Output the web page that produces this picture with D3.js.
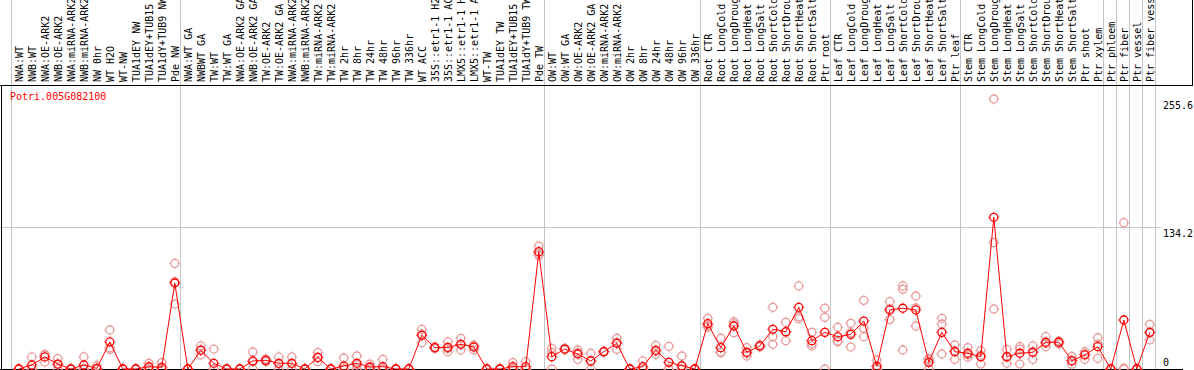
<!DOCTYPE html>
<html>
<head>
<meta charset="utf-8">
<script src="https://cdn.jsdelivr.net/npm/d3@7"></script>
<style>
  body { margin: 0; background: #fff; }
  svg { display: block; }
  text { font-family: "DejaVu Sans Mono", "Liberation Mono", monospace; font-size: 10px; }
</style>
</head>
<body>
<script>
// sample names, one per column
var samples = [
  "NWA:WT", "NWB:WT", "NWA:OE-ARK2", "NWB:OE-ARK2", "NWA:miRNA-ARK2", "NWB:miRNA-ARK2",
  "NW 0hr", "WT H2O", "WT-NW", "TUA1dEY NW", "TUA1dEY+TUB15 NW", "TUA1dY+TUB9 NW", "Pde NW",
  "NWA:WT GA", "NWBWT GA", "TW:WT", "TW:WT GA", "NWA:OE-ARK2 GA", "NWB:OE-ARK2 GA",
  "TW:OE-ARK2", "TW:OE-ARK2 GA", "NWA:miRNA-ARK2", "NWB:miRNA-ARK2", "TW:miRNA-ARK2", "TW:miRNA-ARK2",
  "TW 2hr", "TW 8hr", "TW 24hr", "TW 48hr", "TW 96hr", "TW 336hr", "WT ACC",
  "35S::etr1-1 H2O", "35S::etr1-1 ACC", "LMX5::etr1-1 H2O", "LMX5::etr1-1 ACC",
  "WT-TW", "TUA1dEY TW", "TUA1dEY+TUB15 TW", "TUA1dY+TUB9 TW", "Pde TW",
  "OW:WT", "OW:WT GA", "OW:OE-ARK2", "OW:OE-ARK2 GA", "OW:miRNA-ARK2", "OW:miRNA-ARK2",
  "OW 2hr", "OW 8hr", "OW 24hr", "OW 48hr", "OW 96hr", "OW 336hr",
  "Root CTR", "Root LongCold", "Root LongDrought", "Root LongHeat", "Root LongSalt",
  "Root ShortCold", "Root ShortDrought", "Root ShortHeat", "Root ShortSalt", "Ptr root",
  "Leaf CTR", "Leaf LongCold", "Leaf LongDrought", "Leaf LongHeat", "Leaf LongSalt",
  "Leaf ShortCold", "Leaf ShortDrought", "Leaf ShortHeat", "Leaf ShortSalt", "Ptr leaf",
  "Stem CTR", "Stem LongCold", "Stem LongDrought", "Stem LongHeat", "Stem LongSalt",
  "Stem ShortCold", "Stem ShortDrought", "Stem ShortHeat", "Stem ShortSalt",
  "Ptr shoot", "Ptr xylem", "Ptr phloem", "Ptr fiber", "Ptr vessel", "Ptr fiber vessel"
];

// mean expression per sample
var means = [
  0, 3.8, 11.4, 4.7, 0, 3.8, 0.6, 25.6, 0, 0, 2.2, 1.6, 81.4,
  0, 17.7, 5.4, 0, 0, 7.6, 8.2, 5.4, 5.4, 0, 11.0, 0, 2.8, 5.4, 1.9, 2.2, 0, 0, 31.9,
  20.2, 20.5, 23.4, 20.8, 0, 0, 2.2, 2.2, 111.1,
  11.7, 18.9, 14.2, 7.6, 16.4, 24.3, 0, 2.2, 17.7, 6.3, 3.1, 0,
  42.9, 20.2, 40.7, 15.8, 21.8, 37.6, 35.3, 58.4, 26.8, 34.7,
  30.6, 32.8, 45.4, 2.5, 55.9, 57.5, 55.9, 6.3, 34.7, 16.4,
  14.9, 11.7, 143.6, 11.7, 14.9, 15.8, 25.3, 25.3, 7.9,
  13.3, 21.1, 0, 46.4, 0, 34.7
];

// replicate values per sample
var replicates = [
  [0, 0, 0], [11.4, 0, 0], [13.9, 6.6, 13.5], [9.8, 4.2, 0], [0, 0, 0], [11.4, 0, 0],
  [3.1, 0, 0], [36.9, 18.6, 20.2], [0, 0, 0], [0, 0, 0], [5.4, 1.2, 0], [6.0, 0, 0], [100, 61.5, 82.7],
  [0, 0, 0], [21.8, 13.3, 18.0], [18.9, 0, 0], [0, 0, 0], [0, 0, 0], [16.1, 6.7, 0],
  [9.5, 7.0, 8.1], [11.4, 4.8, 0], [11.4, 4.8, 0], [0, 0, 0], [15.5, 6.9, 10.6], [0, 0, 0],
  [10.4, 0, 0], [12.3, 3.9, 0], [4.7, 1.0, 0], [9.2, 0, 0], [0, 0, 0], [0, 0, 0], [37.6, 24.9, 33.2],
  [21.0, 19.5, 20.1], [25.6, 16.4, 19.5], [29.0, 18.0, 23.2], [18.0, 22.5, 21.9],
  [0, 0, 0], [0, 0, 0], [6.0, 0.6, 0], [6.9, 0, 0], [116.4, 107.6, 109.3],
  [19.6, 15.5, 0], [19.5, 18.2, 19.0], [18.0, 9.2, 15.4], [14.9, 7.9, 0], [16.8, 15.9, 16.5],
  [29.1, 18.6, 25.2], [0, 0, 0], [7.6, 0, 0], [22.4, 13.9, 16.8], [21.5, 0, 0], [12.3, 0, 0], [0, 0, 0],
  [48.0, 39.5, 41.2], [29.1, 15.5, 16.0], [44.8, 34.4, 42.9], [20.2, 12.3, 14.9], [22.7, 20.9, 21.8],
  [58.4, 30.6, 23.4], [44.2, 26.8, 34.9], [78.6, 49.5, 47.6], [34.7, 21.8, 23.9], [57.5, 48.9, 0],
  [39.5, 25.8, 26.5], [43.2, 20.8, 34.4], [65.0, 38.5, 30.6], [8.5, 0, 0], [63.7, 47.0, 57.0],
  [78.6, 75.4, 18.0], [69.1, 40.7, 57.9], [10.1, 8.8, 0], [48.0, 42.6, 14.2], [22.7, 9.2, 17.3],
  [20.2, 11.1, 13.4], [17.3, 4.7, 13.1], [255.6, 119.6, 56.8], [18.6, 5.4, 11.1], [21.1, 4.7, 18.9],
  [21.8, 9.2, 16.4], [30.6, 21.1, 24.2], [23.7, 26.5, 25.7], [11.7, 4.5, 7.5],
  [16.4, 9.2, 14.3], [29.6, 10.1, 23.6], [0, 0, 0], [138.5, 0.7, 0], [0, 0, 0], [42.3, 27.5, 34.3]
];

// column index where each sample group starts (last = end)
var groupBreaks = [0, 13, 41, 53, 63, 73, 84, 85, 86, 87, 88];
var yTicks = [0, 134.2, 255.6];
var title = "Potri.005G082100";

var W = 1194, H = 370;
var headerH = 85, bottom = 369;

var svg = d3.select("body").append("svg")
    .attr("width", W)
    .attr("height", H);

var x = d3.scaleBand().domain(d3.range(samples.length)).range([11, 1155]);
var cx = function(i) { return x(i) + x.bandwidth() * 0.6; };
var y = d3.scaleLinear().domain([0, 255.6]).range([bottom, 99]);

// group separators
svg.append("g").selectAll("line")
    .data(groupBreaks)
    .enter().append("line")
    .attr("x1", function(b) { return b < samples.length ? x(b) : x(b - 1) + x.bandwidth(); })
    .attr("x2", function(b) { return b < samples.length ? x(b) : x(b - 1) + x.bandwidth(); })
    .attr("y1", 0)
    .attr("y2", bottom)
    .attr("stroke", "#c4c4c4")
    .attr("stroke-width", 1)
    .attr("shape-rendering", "crispEdges");

// horizontal grid line
svg.append("line")
    .attr("x1", 0).attr("x2", 1160)
    .attr("y1", Math.round(y(134.2)) + 0.5).attr("y2", Math.round(y(134.2)) + 0.5)
    .attr("stroke", "#c4c4c4");

// frame
var frame = svg.append("g").attr("stroke", "#000").attr("shape-rendering", "crispEdges");
frame.append("line").attr("x1", 0).attr("x2", 1193).attr("y1", headerH).attr("y2", headerH);
frame.append("line").attr("x1", 1).attr("x2", 1).attr("y1", headerH).attr("y2", bottom + 1);
frame.append("line").attr("x1", 0).attr("x2", 1183).attr("y1", bottom).attr("y2", bottom);
frame.append("line").attr("x1", 1192.5).attr("x2", 1192.5).attr("y1", 0).attr("y2", headerH);

// sample labels
svg.append("g").selectAll("text")
    .data(samples)
    .enter().append("text")
    .attr("transform", function(d, i) { return "translate(" + (cx(i) + 4) + "," + 82 + ") rotate(-90)"; })
    .attr("fill", "#000")
    .text(function(d) { return d; });

// y labels
svg.append("g").selectAll("text")
    .data(yTicks)
    .enter().append("text")
    .attr("x", 1163)
    .attr("y", function(d) { return Math.min(y(d) + 10, bottom - 3); })
    .attr("fill", "#000")
    .text(function(d) { return d; });

// title
svg.append("text")
    .attr("x", 10).attr("y", 100)
    .attr("fill", "#ff0000")
    .text(title);

function marker(sel, color) {
  sel.append("circle").attr("r", 4).attr("fill", "none").attr("stroke", color).attr("stroke-width", 1.3);
  sel.append("path")
      .attr("d", "M0,-5.5V-4.5M0,4.5V5.5M-5.5,0H-4.5M4.5,0H5.5")
      .attr("stroke", color).attr("stroke-width", 1);
}

// replicates
var repData = [];
replicates.forEach(function(r, i) {
  r.forEach(function(v) { repData.push({i: i, v: v}); });
});
svg.append("g").selectAll("g")
    .data(repData)
    .enter().append("g")
    .attr("transform", function(d) { return "translate(" + cx(d.i) + "," + y(d.v) + ")"; })
    .call(marker, "#e89a9a");

// mean line
var line = d3.line()
    .x(function(d, i) { return cx(i); })
    .y(function(d) { return y(d); });
svg.append("path")
    .datum(means)
    .attr("fill", "none")
    .attr("stroke", "#ff0000")
    .attr("stroke-width", 1)
    .attr("d", line);

// mean points
svg.append("g").selectAll("g")
    .data(means)
    .enter().append("g")
    .attr("transform", function(d, i) { return "translate(" + cx(i) + "," + y(d) + ")"; })
    .call(marker, "#ff0000");
</script>
</body>
</html>
